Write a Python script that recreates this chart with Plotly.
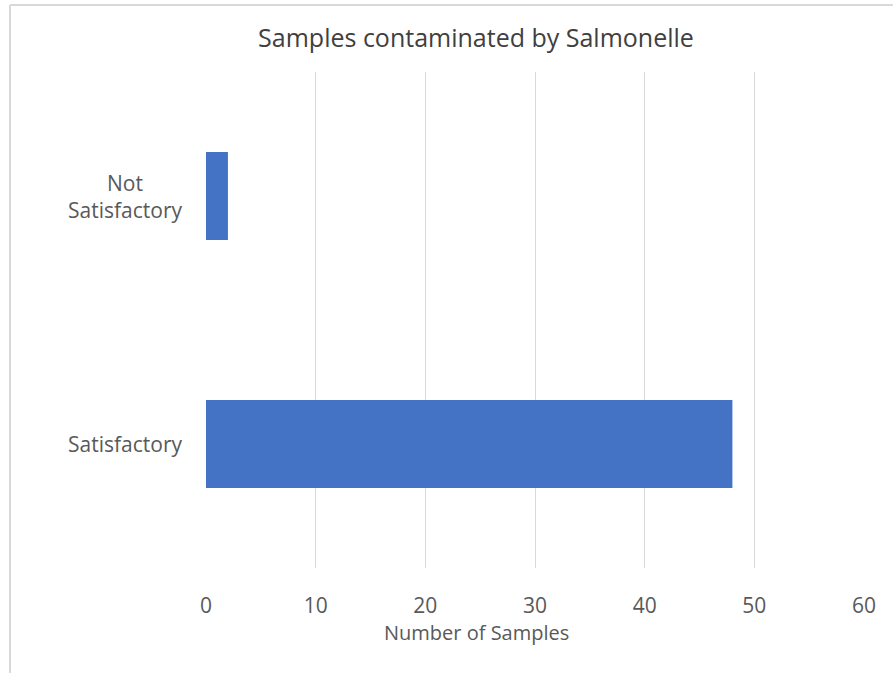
import plotly.graph_objects as go

categories = ["Satisfactory", "Not<br>Satisfactory"]
samples = [48, 2]
x_ticks = [0, 10, 20, 30, 40, 50, 60]

W, H = 893, 673
ML, MR, MT, MB = 206, 29, 72, 105
pw = W - ML - MR
ph = H - MT - MB

font_family = "'Open Sans', sans-serif"
bar_colour = "#4472C4"
grid_colour = "#D9D9D9"
text_colour = "#595959"

fig = go.Figure()

fig.add_trace(go.Bar(
    x=samples,
    y=categories,
    orientation="h",
    marker=dict(color=bar_colour, line=dict(width=0)),
    hoverinfo="x+y",
))

# category labels, centred text like Excel
for cat in categories:
    fig.add_annotation(
        x=0, xref="paper", y=cat, yref="y",
        text=cat, showarrow=False,
        xanchor="right", align="center", xshift=-22,
        font=dict(size=21, color=text_colour, family=font_family),
    )

# x axis title centred on the whole chart area
fig.add_annotation(
    x=(476 - ML) / pw, xref="paper",
    y=(H - MB - 632) / ph, yref="paper",
    text="Number of Samples", showarrow=False,
    xanchor="center", yanchor="middle",
    font=dict(size=20, color=text_colour, family=font_family),
)

# chart border (left and top visible in the crop)
bx = (10 - ML) / pw
by = (H - MB - 5) / ph
fig.add_shape(type="line", xref="paper", yref="paper",
              x0=bx, x1=bx, y0=by, y1=(H - MB - H - 5) / ph,
              line=dict(color=grid_colour, width=2))
fig.add_shape(type="line", xref="paper", yref="paper",
              x0=bx, x1=(W + 60 - ML) / pw, y0=by, y1=by,
              line=dict(color=grid_colour, width=2))

fig.update_layout(
    width=W, height=H,
    paper_bgcolor="white",
    plot_bgcolor="white",
    font=dict(family=font_family, color=text_colour),
    title=dict(
        text="Samples contaminated by Salmonelle",
        x=476 / W, xref="container", xanchor="center",
        y=1 - 38 / H, yref="container", yanchor="middle",
        font=dict(size=25, color="#404040", family=font_family),
    ),
    xaxis=dict(
        range=[0, 60],
        tickvals=x_ticks,
        showgrid=True, gridcolor=grid_colour, gridwidth=1,
        zeroline=False, showline=False,
        ticks="", ticklabelstandoff=23,
        tickfont=dict(size=21, color=text_colour),
        fixedrange=True,
    ),
    yaxis=dict(
        showticklabels=False,
        showgrid=False, zeroline=False, showline=False,
        fixedrange=True,
    ),
    bargap=0.645,
    showlegend=False,
    margin=dict(l=ML, r=MR, t=MT, b=MB, autoexpand=False),
)

# drop the default page margin so the figure sits at the window origin
fig.write_html("out.html",
               config={"displayModeBar": False},
               post_script="document.body.style.margin='0';")
